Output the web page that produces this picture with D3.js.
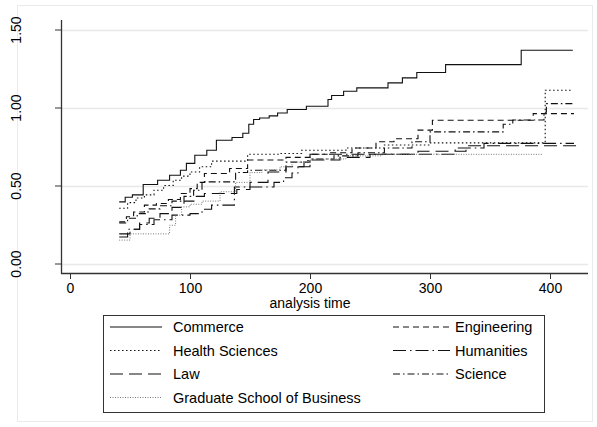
<!DOCTYPE html>
<html lang="en">
<head>
<meta charset="utf-8">
<script src="https://cdn.jsdelivr.net/npm/d3@7"></script>
<style>
  body { margin: 0; background: #fff; }
  text { font-family: "Liberation Sans", Arial, sans-serif; fill: #000; }
</style>
</head>
<body>
<script>
// step curves (time, cumulative hazard)
var commerceT = [41,46,52,61,73,83,92,97,104,114,122,135,144,149,153,158,166,173,181,197,215,218,228,239,265,277,289,313,376,419];
var commerceV = [0.395,0.425,0.44,0.506,0.534,0.566,0.598,0.642,0.694,0.726,0.79,0.808,0.835,0.893,0.923,0.933,0.946,0.965,0.987,1.008,1.051,1.077,1.104,1.126,1.158,1.19,1.224,1.275,1.367,1.367];

var engineeringT = [41,47,53,62,72,82,92,100,106,112,133,148,180,200,215,235,255,270,290,302,386,420];
var engineeringV = [0.267,0.30,0.33,0.374,0.385,0.41,0.449,0.48,0.52,0.577,0.609,0.663,0.68,0.70,0.71,0.74,0.78,0.80,0.855,0.918,0.961,0.961];

var healthT = [41,48,55,62,70,78,86,93,100,108,118,148,175,193,230,262,300,396,419];
var healthV = [0.354,0.39,0.42,0.44,0.47,0.50,0.534,0.56,0.587,0.62,0.656,0.70,0.705,0.726,0.74,0.76,0.773,1.111,1.111];

var humanitiesT = [41,48,58,70,85,100,110,118,137,170,178,185,190,195,200,321,345,420];
var humanitiesV = [0.17,0.22,0.25,0.28,0.31,0.32,0.348,0.374,0.49,0.52,0.55,0.58,0.62,0.66,0.70,0.74,0.77,0.77];

var lawT = [41,50,58,66,75,85,95,104,112,139,150,165,180,200,225,250,290,330,423];
var lawV = [0.19,0.22,0.26,0.29,0.32,0.36,0.40,0.43,0.449,0.474,0.52,0.587,0.62,0.663,0.68,0.70,0.72,0.755,0.768];

var scienceT = [41,48,56,65,75,85,95,103,110,138,148,180,200,220,240,262,285,300,361,369,395,397,420];
var scienceV = [0.26,0.29,0.32,0.35,0.37,0.40,0.43,0.47,0.523,0.583,0.598,0.65,0.67,0.69,0.71,0.74,0.78,0.844,0.893,0.92,0.97,1.025,1.025];

var gsbT = [41,50,83,88,93,100,110,125,138,150,160,175,185,200,230,260,394];
var gsbV = [0.15,0.19,0.245,0.31,0.363,0.38,0.40,0.46,0.52,0.583,0.60,0.62,0.65,0.67,0.69,0.70,0.70];

var xTicks = [0, 100, 200, 300, 400];
var yTicks = [0, 0.5, 1, 1.5];

var series = [
  { name: "Commerce", t: commerceT, v: commerceV, dash: null, color: "#111", width: 1.1 },
  { name: "Engineering", t: engineeringT, v: engineeringV, dash: "6,4", color: "#111", width: 1.1 },
  { name: "Health Sciences", t: healthT, v: healthV, dash: "1.5,2.5", color: "#111", width: 1.1 },
  { name: "Humanities", t: humanitiesT, v: humanitiesV, dash: "13,4,1.5,4", color: "#111", width: 1.1 },
  { name: "Law", t: lawT, v: lawV, dash: "13,6", color: "#111", width: 1.1 },
  { name: "Science", t: scienceT, v: scienceV, dash: "7,3,1.5,3", color: "#111", width: 1.1 },
  { name: "Graduate School of Business", t: gsbT, v: gsbV, dash: "1,1.5", color: "#777", width: 1 }
];

var w = 597, h = 427;
var svg = d3.select("body").append("svg").attr("width", w).attr("height", h);

// outer light frame
svg.append("rect").attr("x", 17.5).attr("y", 5.5).attr("width", 575).attr("height", 416)
  .attr("fill", "none").attr("stroke", "#ebebeb");

var x = d3.scaleLinear().domain([0, 400]).range([70, 550]);
var y = d3.scaleLinear().domain([0, 1.5]).range([263.5, 29.5]);
var plotL = 61, plotR = 588, plotT = 20, plotB = 273;

// gridlines
svg.selectAll("line.grid").data(yTicks).enter().append("line")
  .attr("class", "grid")
  .attr("x1", plotL).attr("x2", plotR)
  .attr("y1", function(d){ return Math.round(y(d)) + 0.5; })
  .attr("y2", function(d){ return Math.round(y(d)) + 0.5; })
  .attr("stroke", "#e8e8e8").attr("stroke-width", 1.5);

// y axis
var yAxis = svg.append("g").attr("transform", "translate(" + plotL + ",0)")
  .call(d3.axisLeft(y).tickValues(yTicks).tickSize(6).tickFormat(d3.format(".2f")));
yAxis.select(".domain").remove();
yAxis.selectAll(".tick line").attr("stroke", "#333");
yAxis.selectAll(".tick text")
  .attr("x", 0).attr("dy", 0)
  .attr("transform", "translate(-45,0) rotate(-90)")
  .attr("text-anchor", "middle").attr("dominant-baseline", "central")
  .style("font-size", "14px").style("font-family", "Liberation Sans, Arial, sans-serif");
svg.append("line").attr("x1", plotL + 0.5).attr("x2", plotL + 0.5).attr("y1", plotT).attr("y2", plotB + 0.5)
  .attr("stroke", "#333").attr("stroke-width", 1.3);

// x axis
var xAxis = svg.append("g").attr("transform", "translate(0," + plotB + ")")
  .call(d3.axisBottom(x).tickValues(xTicks).tickSize(6));
xAxis.select(".domain").remove();
xAxis.selectAll(".tick line").attr("stroke", "#333");
xAxis.selectAll(".tick text").attr("y", 10)
  .style("font-size", "14px").style("font-family", "Liberation Sans, Arial, sans-serif");
svg.append("line").attr("x1", plotL).attr("x2", plotR).attr("y1", plotB + 0.5).attr("y2", plotB + 0.5)
  .attr("stroke", "#333").attr("stroke-width", 1.3);

svg.append("text").attr("x", 310).attr("y", 308).attr("text-anchor", "middle")
  .style("font-size", "14px").text("analysis time");

// curves
var line = d3.line()
  .x(function(d){ return x(d[0]); })
  .y(function(d){ return y(d[1]); })
  .curve(d3.curveStepAfter);

svg.selectAll("path.curve").data(series).enter().append("path")
  .attr("class", "curve")
  .attr("d", function(s){ return line(d3.zip(s.t, s.v)); })
  .attr("fill", "none")
  .attr("stroke", function(s){ return s.color; })
  .attr("stroke-width", function(s){ return s.width; })
  .attr("stroke-dasharray", function(s){ return s.dash; });

// legend
var lg = svg.append("g");
lg.append("rect").attr("x", 103.5).attr("y", 315.5).attr("width", 441).attr("height", 97)
  .attr("fill", "#fff").attr("stroke", "#333").attr("stroke-width", 1);

var items = lg.selectAll("g.item").data(series).enter()
  .append("g").attr("class", "item")
  .attr("transform", function(d, i){
    var col = i === 6 ? 0 : i % 2, row = i === 6 ? 3 : Math.floor(i / 2);
    return "translate(" + (col === 0 ? 110 : 393) + "," + (327 + row * 23.5) + ")";
  });
items.append("line").attr("x1", 0).attr("x2", function(d, i){ return (i % 2 === 1) ? 57 : 52; })
  .attr("y1", 0).attr("y2", 0)
  .attr("stroke", function(d){ return d.color; })
  .attr("stroke-width", function(d){ return d.width; })
  .attr("stroke-dasharray", function(d){ return d.dash; });
items.append("text").attr("x", function(d, i){ return (i % 2 === 1) ? 62 : 63; })
  .attr("y", 0).attr("dy", "0.35em")
  .style("font-size", "14.5px").text(function(d){ return d.name; });
</script>
</body>
</html>
